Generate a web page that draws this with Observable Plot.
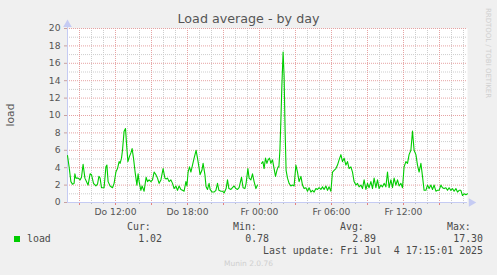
<!DOCTYPE html>
<html>
<head>
<meta charset="utf-8">
<script src="https://cdn.jsdelivr.net/npm/d3@7"></script>
<script src="https://cdn.jsdelivr.net/npm/@observablehq/plot@0.6"></script>
<style>
  html, body { margin: 0; padding: 0; background: #f0f0f0; }
  #wrap { position: relative; width: 497px; height: 275px; overflow: hidden; background: #f0f0f0; }
  #chart { position: absolute; left: 0; top: 0; }
  .t { position: absolute; white-space: pre; color: #555; font-family: "DejaVu Sans", sans-serif; }
  .m { position: absolute; white-space: pre; color: #4a4a4a; font-family: "DejaVu Sans Mono", monospace; font-size: 9.9px; line-height: 12px; }
</style>
</head>
<body>
<div id="wrap">
  <div id="chart"></div>
</div>
<script>
// ---- data (minutes after Do 08:00, load value) ----
const startTime = "2025-07-03T08:00:00Z";
const endTime = "2025-07-04T17:20:00Z";
const minutes = [0,8,17,25,33,37,42,53,63,70,78,87,97,103,113,120,130,142,150,157,163,170,183,192,197,203,213,225,233,242,250,258,263,270,275,283,290,295,302,310,317,323,330,338,347,353,358,367,373,383,393,400,408,417,425,433,442,450,458,467,478,487,493,500,508,517,525,533,542,550,558,567,575,583,592,597,603,610,617,625,633,643,650,657,663,672,678,687,693,700,708,713,723,733,742,750,757,767,775,783,793,800,807,817,825,833,842,850,858,870,878,887,893,902,908,917,925,933,942,950,959,970,977,983,990,997,1003,1010,1017,1025,1033,1040,1047,1053,1057,1062,1067,1072,1078,1083,1088,1093,1100,1108,1117,1125,1133,1142,1150,1158,1167,1175,1183,1192,1200,1208,1217,1225,1233,1242,1250,1258,1267,1275,1283,1292,1300,1308,1317,1325,1333,1342,1350,1358,1367,1375,1383,1392,1400,1408,1417,1425,1433,1442,1450,1458,1467,1475,1483,1492,1500,1508,1517,1525,1533,1542,1550,1558,1567,1575,1583,1592,1600,1608,1617,1625,1633,1642,1650,1658,1667,1675,1683,1692,1700,1708,1717,1725,1733,1742,1750,1758,1767,1775,1783,1792,1800,1808,1817,1825,1833,1842,1850,1858,1867,1875,1883,1892,1900,1908,1917,1925,1933,1942,1950,1958,1967,1975,1983,1992,2000];
const load = [5.4,4.1,2.4,2.1,2.2,3.3,2.8,2.8,2.6,2.9,4.4,2.8,2.3,2.0,3.3,3.2,2.2,1.9,2.1,3.0,2.8,1.7,1.7,4.1,4.3,2.4,1.9,1.7,2.2,3.5,3.9,4.7,4.5,5.1,6.0,8.2,8.5,6.8,4.7,5.3,5.7,6.2,5.1,3.5,2.0,3.3,2.4,1.4,1.9,1.3,2.9,2.4,2.6,2.4,2.6,3.5,3.2,2.8,2.2,2.6,3.9,2.8,2.7,2.8,2.4,2.6,2.2,1.6,1.9,1.4,1.9,1.5,1.4,1.3,2.4,1.9,3.5,4.1,3.5,4.3,5.1,6.0,5.1,4.1,3.2,3.7,4.5,3.2,1.8,1.5,2.2,1.5,1.2,1.2,1.4,2.2,1.4,1.3,1.3,1.1,1.6,2.6,1.6,1.5,1.7,1.9,1.6,1.5,1.7,2.9,1.7,1.6,2.2,3.9,2.8,2.6,3.3,2.4,1.6,2.0,null,4.5,4.7,3.9,5.1,4.5,4.9,5.1,4.5,4.9,3.9,3.0,3.7,4.1,4.1,6.0,9.5,13.5,17.3,14.5,8.3,3.7,2.8,2.2,1.9,2.0,1.9,4.3,3.5,2.4,3.0,2.0,1.6,1.7,1.3,1.7,1.2,1.4,1.2,1.6,1.5,1.7,1.5,1.8,1.5,1.9,1.4,1.8,1.3,3.5,3.7,3.9,4.3,4.9,5.5,4.7,5.1,4.3,4.7,3.9,4.1,3.5,2.4,2.0,2.2,1.8,2.0,1.6,2.6,1.5,2.2,1.7,2.4,1.6,2.8,1.7,2.6,1.6,2.0,1.8,2.2,1.8,3.5,1.7,2.6,1.7,2.8,2.0,2.6,1.9,2.2,1.7,4.1,4.7,4.5,5.5,6.0,8.2,6.0,5.5,4.3,3.5,4.5,3.0,1.4,1.4,2.0,1.6,2.0,1.5,2.0,1.3,1.4,1.4,2.0,1.7,1.6,1.7,1.4,1.7,1.4,1.6,1.3,1.6,1.2,1.4,1.4,0.8,1.0,0.9,1.0];

// ---- axis tick labels ----
const xTickTimes = ["2025-07-03T12:00:00Z","2025-07-03T18:00:00Z","2025-07-04T00:00:00Z","2025-07-04T06:00:00Z","2025-07-04T12:00:00Z"];
const xTickLabels = ["Do 12:00","Do 18:00","Fr 00:00","Fr 06:00","Fr 12:00"];
const yTicks = [0,2,4,6,8,10,12,14,16,18,20];

// ---- texts ----
const title = "Load average - by day";
const yLabel = "load";
const seriesName = "load";
const statNames = ["Cur:","Min:","Avg:","Max:"];
const statValues = ["1.02","0.78","2.89","17.30"];
const lastUpdate = "Last update: Fri Jul  4 17:15:01 2025";
const sideText = "RRDTOOL / TOBI OETIKER";
const footer = "Munin 2.0.76";

// ---- build ----
const t0 = new Date(startTime), t1 = new Date(endTime);
const rows = minutes.map((m, i) => ({t: new Date(+t0 + m * 60000), v: load[i]}));
const labelMap = new Map(xTickTimes.map((s, i) => [+new Date(s), xTickLabels[i]]));
const hourTicks = d3.utcHour.range(new Date(+t0 + 1), t1);
const majorX = hourTicks.filter(d => d.getUTCHours() % 3 === 0);
const minorX = hourTicks.filter(d => d.getUTCHours() % 3 !== 0);
const minorY = d3.range(1, 20, 2);
const majorY = d3.range(2, 21, 2);
const axisBlue = "#c5cbf3";
const majorCol = "#e6a3a3";
const minorCol = "#cdcdcd";

const plot = Plot.plot({
  width: 497, height: 275,
  marginLeft: 67, marginRight: 30, marginTop: 28, marginBottom: 73,
  style: {background: "transparent", fontFamily: "DejaVu Sans, sans-serif", fontSize: "9.2px", color: "#555", overflow: "visible"},
  x: {type: "utc", domain: [t0, t1]},
  y: {domain: [0, 20]},
  marks: [
    Plot.frame({fill: "white", stroke: null}),
    Plot.ruleX(minorX, {stroke: minorCol, strokeDasharray: "1,1"}),
    Plot.ruleY(minorY, {stroke: minorCol, strokeDasharray: "1,1"}),
    Plot.ruleX(majorX, {stroke: majorCol, strokeDasharray: "1,1"}),
    Plot.ruleY(majorY, {stroke: majorCol, strokeDasharray: "1,1"}),
    Plot.axisX({ticks: minorX, tickSize: 2, stroke: "#bbbbbb", tickFormat: () => "", label: null}),
    Plot.axisX({ticks: majorX, tickSize: 3, stroke: "#e58080", tickFormat: () => "", label: null}),
    Plot.axisX({ticks: xTickTimes.map(s => new Date(s)), tickSize: 0, tickPadding: 6, tickFormat: d => labelMap.get(+d), label: null, fill: "#555"}),
    Plot.axisY({ticks: yTicks, tickSize: 3, tickPadding: 4, stroke: "#c8a0a0", label: null, fill: "#555"}),
    Plot.ruleY([0], {stroke: axisBlue}),
    Plot.ruleX([t0], {y1: 0, y2: 20.4, stroke: axisBlue}),
    Plot.dot([{t: new Date(+t1 + 19 * 60000), v: 0}], {x: "t", y: "v", symbol: "triangle", r: 3.2, rotate: 90, fill: axisBlue, stroke: null}),
    Plot.dot([{t: t0, v: 20.45}], {x: "t", y: "v", symbol: "triangle", r: 3.2, fill: axisBlue, stroke: null}),
    Plot.line(rows, {x: "t", y: "v", stroke: "#00cc00", strokeWidth: 1.1})
  ]
});
document.getElementById("chart").appendChild(plot);

const wrap = document.getElementById("wrap");
function addText(cls, text, css) {
  const el = document.createElement("div");
  el.className = cls;
  el.textContent = text;
  Object.assign(el.style, css);
  wrap.appendChild(el);
  return el;
}
// title
addText("t", title, {left: "0px", width: "497px", textAlign: "center", top: "11px", fontSize: "12.7px", lineHeight: "16px", color: "#555"});
// y label
addText("t", yLabel, {left: "11px", top: "115px", fontSize: "10.7px", lineHeight: "12px", transform: "translate(-50%,-50%) rotate(-90deg)", color: "#555"});
// side text
addText("t", sideText, {left: "488px", top: "53px", fontSize: "7px", lineHeight: "8px", color: "#cfcfcf", transform: "translate(-50%,-50%) rotate(90deg)"});
// legend
const sq = document.createElement("div");
Object.assign(sq.style, {position: "absolute", left: "14px", top: "236px", width: "6px", height: "6px", background: "#00cc00"});
wrap.appendChild(sq);
addText("m", seriesName, {left: "27px", top: "233px"});
const headLeft = [127, 233, 340, 447];
const valRight = [162, 269, 376, 483];
statNames.forEach((s, i) => addText("m", s, {left: headLeft[i] + "px", top: "221px"}));
statValues.forEach((s, i) => addText("m", s, {right: (497 - valRight[i]) + "px", top: "233px"}));
addText("m", lastUpdate, {right: (497 - 483) + "px", top: "245px"});
addText("t", footer, {left: "0px", width: "497px", textAlign: "center", top: "259px", fontSize: "7.5px", lineHeight: "10px", color: "#cfcfcf"});
</script>
</body>
</html>
